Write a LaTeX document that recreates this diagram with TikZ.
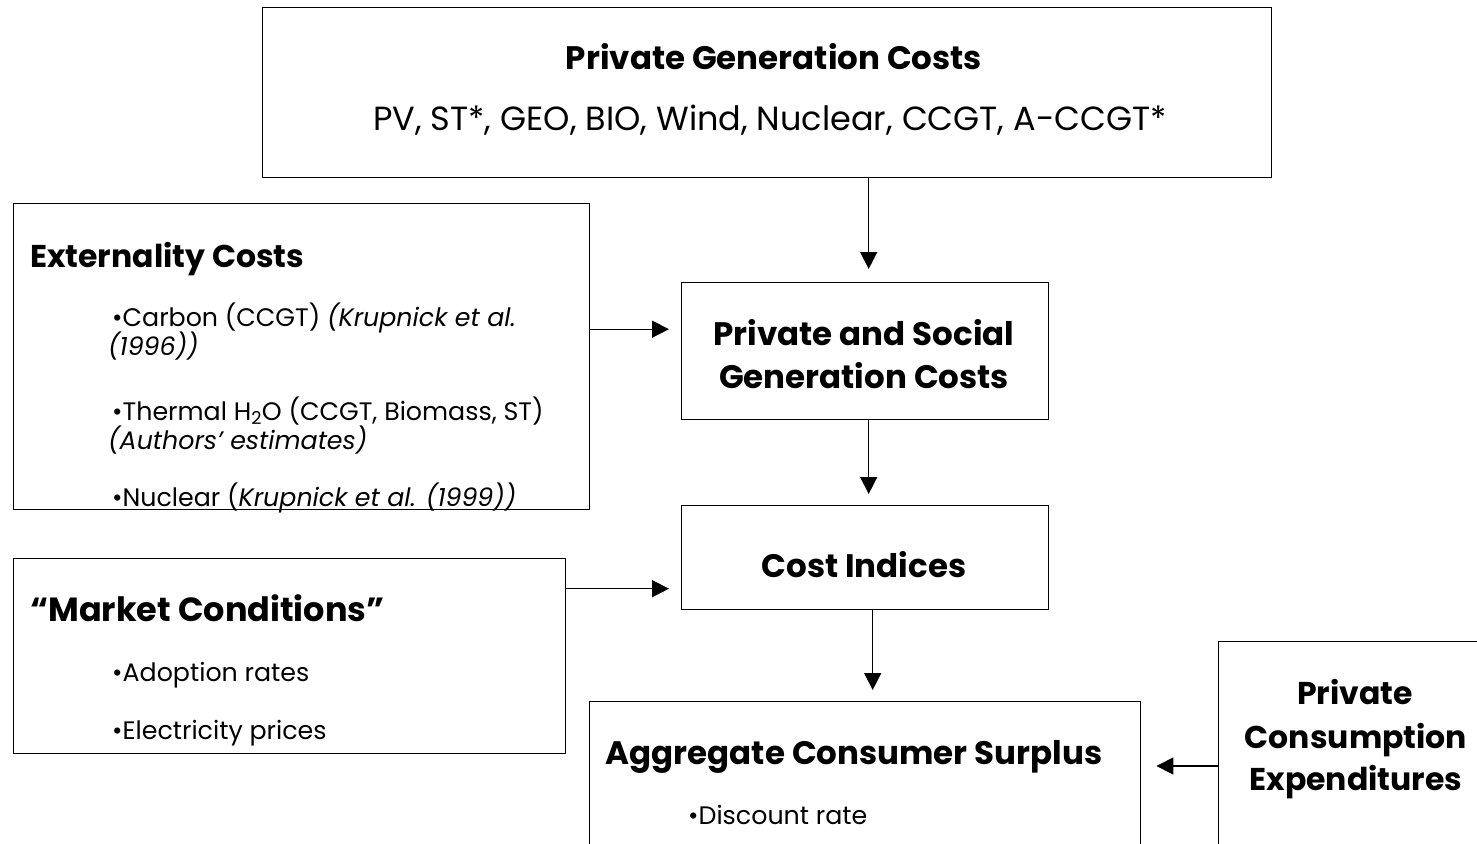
\documentclass[tikz,border=0pt]{standalone}
\usepackage{fontspec}
\setmainfont{Poppins}
\usetikzlibrary{arrows.meta}

\tikzset{
  box/.style={draw=black, line width=1.4pt, rectangle, inner sep=0pt, anchor=north west},
  arr/.style={line width=1.4pt, -{Triangle[length=17pt,width=17pt]}},
  ttl/.style={font=\fontsize{32.5}{38}\selectfont\bfseries, inner sep=0pt},
  ttlS/.style={font=\fontsize{31.5}{37}\selectfont\bfseries, inner sep=0pt},
  ttlL/.style={font=\fontsize{33.5}{39}\selectfont\bfseries, inner sep=0pt},
  txt/.style={font=\fontsize{25.3}{30}\selectfont, inner sep=0pt},
  sub/.style={font=\fontsize{33.5}{39}\selectfont, inner sep=0pt},
}

\begin{document}
\begin{tikzpicture}[x=1pt,y=1pt]
  \useasboundingbox (0,0) rectangle (1477,-843);
  \clip (0,0) rectangle (1477,-843);
  \fill[white] (0,0) rectangle (1477,-843);

  % boxes
  \node[box, minimum width=1009pt, minimum height=170pt] (top) at (262,-7) {};
  \node[box, minimum width=576pt, minimum height=306pt] (ext) at (13,-203) {};
  \node[box, minimum width=367pt, minimum height=137pt] (psgc) at (681,-282) {};
  \node[box, minimum width=367pt, minimum height=104pt] (ci) at (681,-505) {};
  \node[box, minimum width=552pt, minimum height=195pt] (mkt) at (13,-558) {};
  \node[box, minimum width=551pt, minimum height=180pt] (acs) at (589,-701) {};
  \node[box, minimum width=280pt, minimum height=240pt] (pce) at (1218,-641) {};

  % top box text
  \node[ttl, anchor=base] (topT) at (774,-70) {Private Generation Costs};
  \node[sub, anchor=base] (topS) at (770,-130) {PV, ST*, GEO, BIO, Wind, Nuclear, CCGT, A-CCGT*};

  % externality costs
  \node[ttlS, anchor=base west] (extT) at (30,-267) {Externality Costs};
  \node[txt, anchor=base west] (ext1) at (112,-326) {•Carbon (CCGT) \textit{(Krupnick et al.}};
  \node[txt, anchor=base west] (ext1b) at (108,-355) {\textit{(1996))}};
  \node[txt, anchor=base west] (ext2) at (112,-420) {•Thermal H\textsubscript{2}O (CCGT, Biomass, ST)};
  \node[txt, anchor=base west] (ext2b) at (108,-449) {\textit{(Authors’ estimates)}};
  \node[txt, anchor=base west] (ext3) at (112,-506) {•Nuclear (\textit{Krupnick et al. (1999))}};

  % private and social generation costs
  \node[ttl, anchor=base] (psgc1) at (864,-345) {Private and Social};
  \node[ttl, anchor=base] (psgc2) at (864,-388) {Generation Costs};

  % cost indices
  \node[ttl, anchor=base] (ciT) at (864,-577) {Cost Indices};

  % market conditions
  \node[ttlL, anchor=base west] (mktT) at (30,-621) {“Market Conditions”};
  \node[txt, anchor=base west] (mkt1) at (112,-681) {•Adoption rates};
  \node[txt, anchor=base west] (mkt2) at (112,-739) {•Electricity prices};

  % aggregate consumer surplus
  \node[ttl, anchor=base] (acsT) at (854,-764) {Aggregate Consumer Surplus};
  \node[txt, anchor=base west] (acs1) at (688,-824) {•Discount rate};

  % private consumption expenditures
  \node[ttlS, anchor=base] (pce1) at (1355,-704) {Private};
  \node[ttlS, anchor=base] (pce2) at (1356,-748) {Consumption};
  \node[ttlS, anchor=base] (pce3) at (1356,-790) {Expenditures};

  % connectors
  \draw[arr, shorten >=13pt] ([xshift=3.5pt]top.south -| psgc.north) -- ([xshift=3.5pt]psgc.north);
  \draw[arr, shorten >=12pt] ([yshift=22pt]ext.east |- psgc.west) -- ([yshift=22pt]psgc.west);
  \draw[arr, shorten >=11pt] ([xshift=3.5pt]psgc.south) -- ([xshift=3.5pt]ci.north);
  \draw[arr, shorten >=12pt] ([yshift=-31pt]mkt.east |- ci.west) -- ([yshift=-31pt]ci.west);
  \draw[arr, shorten >=11pt] ([xshift=7.5pt]ci.south) -- ([xshift=7.5pt]ci.south |- acs.north);
  \draw[arr, shorten >=15pt] (pce.west |- 0,-766) -- (acs.east |- 0,-766);
\end{tikzpicture}
\end{document}
